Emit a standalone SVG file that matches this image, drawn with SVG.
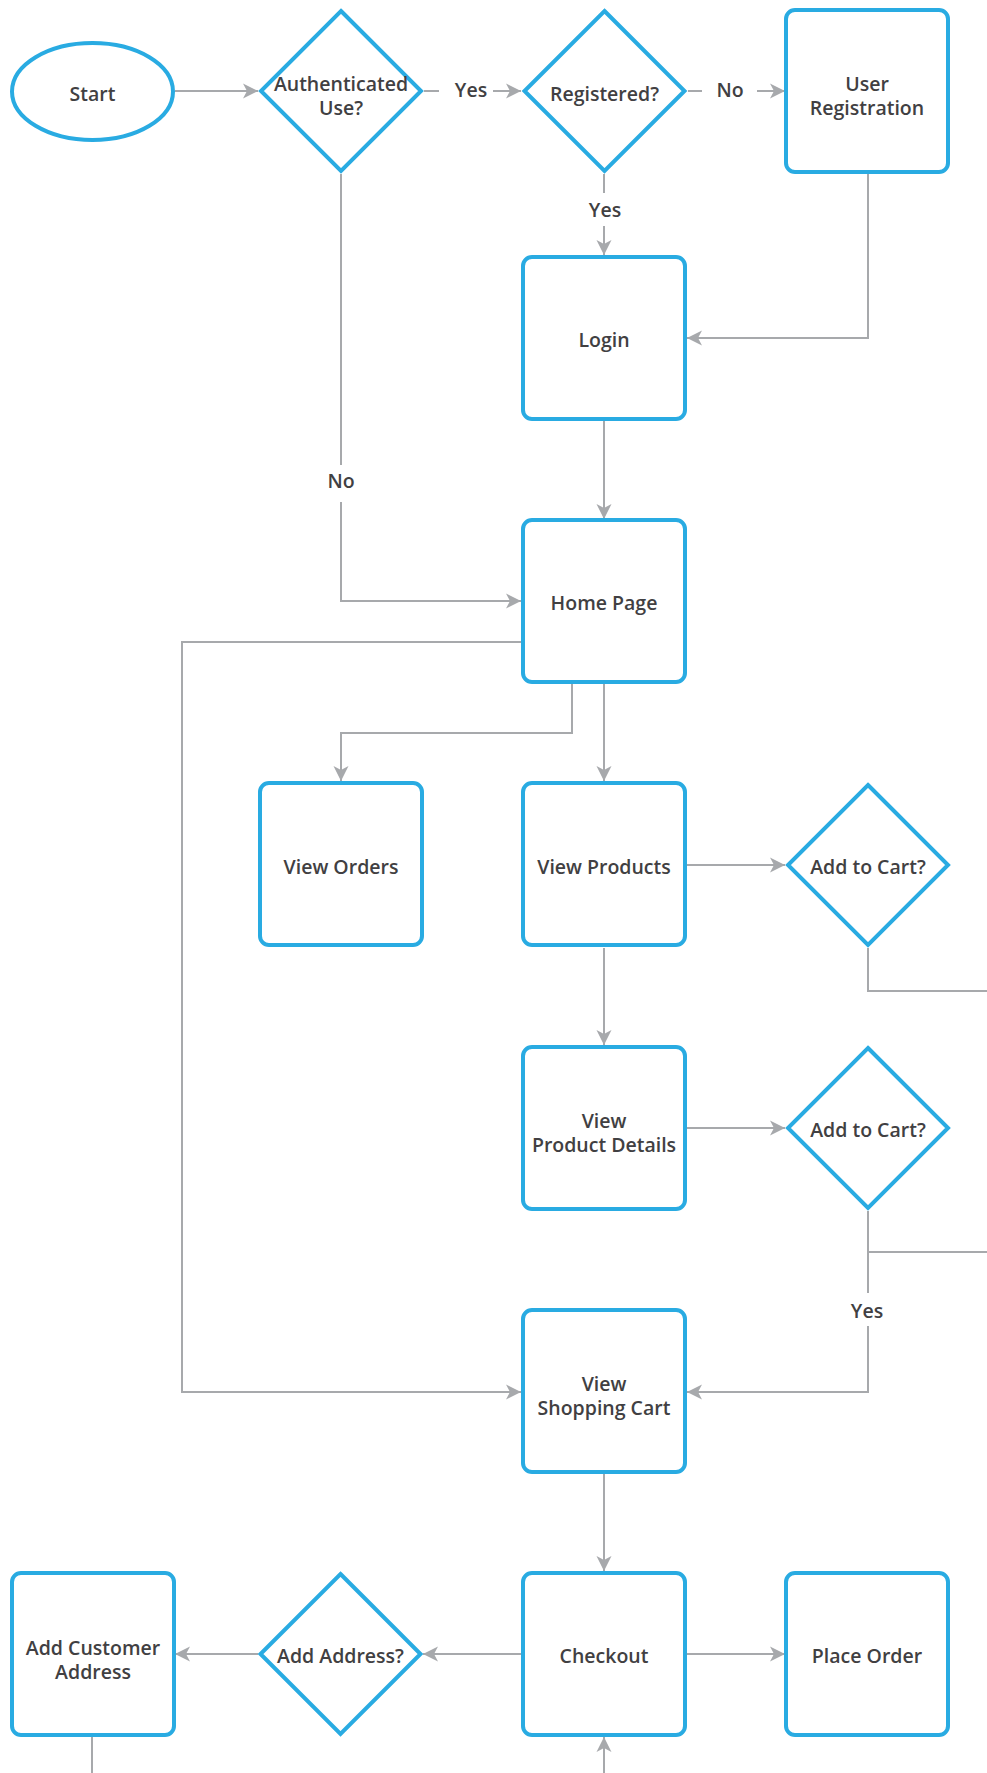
<svg xmlns="http://www.w3.org/2000/svg" width="987" height="1773" viewBox="0 0 987 1773">
<defs>
<style>
.n{fill:#fff;stroke:#29abe2;stroke-width:4}
.t{font-family:"Open Sans","Noto Sans",sans-serif;font-weight:600;font-size:19.5px;fill:#414042;text-anchor:middle}
.c{fill:none;stroke:#a7a9ac;stroke-width:2}
</style>
<marker id="ah" markerUnits="userSpaceOnUse" markerWidth="16" markerHeight="16" viewBox="0 0 16 16" refX="15" refY="8" orient="auto">
<path d="M0,0.5 L15,8 L0,15.5 L4,8 Z" fill="#a7a9ac"/>
</marker>
</defs>
<rect width="987" height="1773" fill="#fff"/>
<g id="connectors">
<path class="c" d="M175,91 H258" marker-end="url(#ah)"/>
<path class="c" d="M424,91 H439"/>
<path class="c" d="M493,91 H521" marker-end="url(#ah)"/>
<text class="t" x="471" y="97">Yes</text>
<path class="c" d="M688,91 H702"/>
<path class="c" d="M757,91 H785" marker-end="url(#ah)"/>
<text class="t" x="730" y="97">No</text>
<path class="c" d="M604,174 V193"/>
<path class="c" d="M604,226 V255" marker-end="url(#ah)"/>
<text class="t" x="605" y="217">Yes</text>
<path class="c" d="M868,174 V338 H687" marker-end="url(#ah)"/>
<path class="c" d="M604,421 V519" marker-end="url(#ah)"/>
<path class="c" d="M341,174 V465"/>
<path class="c" d="M341,502 V601 H521" marker-end="url(#ah)"/>
<text class="t" x="341" y="488">No</text>
<path class="c" d="M521,642 H182 V1392 H521" marker-end="url(#ah)"/>
<path class="c" d="M572,684 V733 H341 V781" marker-end="url(#ah)"/>
<path class="c" d="M604,684 V781" marker-end="url(#ah)"/>
<path class="c" d="M687,865 H785" marker-end="url(#ah)"/>
<path class="c" d="M868,948 V991 H987"/>
<path class="c" d="M604,948 V1045" marker-end="url(#ah)"/>
<path class="c" d="M687,1128 H785" marker-end="url(#ah)"/>
<path class="c" d="M868,1211 V1252 H987"/>
<path class="c" d="M868,1252 V1293"/>
<path class="c" d="M868,1326 V1392 H687" marker-end="url(#ah)"/>
<text class="t" x="867" y="1318">Yes</text>
<path class="c" d="M604,1473 V1571" marker-end="url(#ah)"/>
<path class="c" d="M521,1654 H423" marker-end="url(#ah)"/>
<path class="c" d="M258,1654 H175" marker-end="url(#ah)"/>
<path class="c" d="M687,1654 H785" marker-end="url(#ah)"/>
<path class="c" d="M92,1737 V1773"/>
<path class="c" d="M604,1773 V1737" marker-end="url(#ah)"/>
</g>
<g id="start"><ellipse class="n" cx="92.5" cy="91.5" rx="80.5" ry="48.5"/><text class="t" x="92.5" y="101">Start</text></g>
<g id="auth"><polygon class="n" points="341,11 421,91 341,171 261,91"/><text class="t"><tspan x="341" y="91">Authenticated</tspan><tspan x="341" y="115">Use?</tspan></text></g>
<g id="registered"><polygon class="n" points="604.5,11 684.5,91 604.5,171 524.5,91"/><text class="t" x="604.5" y="101">Registered?</text></g>
<g id="userreg"><rect class="n" x="786" y="10" width="162" height="162" rx="9"/><text class="t"><tspan x="867" y="91">User</tspan><tspan x="867" y="115">Registration</tspan></text></g>
<g id="login"><rect class="n" x="523" y="257" width="162" height="162" rx="9"/><text class="t" x="604" y="347">Login</text></g>
<g id="home"><rect class="n" x="523" y="520" width="162" height="162" rx="9"/><text class="t" x="604" y="610">Home Page</text></g>
<g id="vieworders"><rect class="n" x="260" y="783" width="162" height="162" rx="9"/><text class="t" x="341" y="874">View Orders</text></g>
<g id="viewproducts"><rect class="n" x="523" y="783" width="162" height="162" rx="9"/><text class="t" x="604" y="874">View Products</text></g>
<g id="addcart1"><polygon class="n" points="868,785 948,865 868,945 788,865"/><text class="t" x="868" y="874">Add to Cart?</text></g>
<g id="viewdetails"><rect class="n" x="523" y="1047" width="162" height="162" rx="9"/><text class="t"><tspan x="604" y="1128">View</tspan><tspan x="604" y="1152">Product Details</tspan></text></g>
<g id="addcart2"><polygon class="n" points="868,1048 948,1128 868,1208 788,1128"/><text class="t" x="868" y="1137">Add to Cart?</text></g>
<g id="cart"><rect class="n" x="523" y="1310" width="162" height="162" rx="9"/><text class="t"><tspan x="604" y="1391">View</tspan><tspan x="604" y="1415">Shopping Cart</tspan></text></g>
<g id="checkout"><rect class="n" x="523" y="1573" width="162" height="162" rx="9"/><text class="t" x="604" y="1663">Checkout</text></g>
<g id="placeorder"><rect class="n" x="786" y="1573" width="162" height="162" rx="9"/><text class="t" x="867" y="1663">Place Order</text></g>
<g id="addaddress"><polygon class="n" points="340.5,1574 420.5,1654 340.5,1734 260.5,1654"/><text class="t" x="340.5" y="1663">Add Address?</text></g>
<g id="addcustomer"><rect class="n" x="12" y="1573" width="162" height="162" rx="9"/><text class="t"><tspan x="93" y="1655">Add Customer</tspan><tspan x="93" y="1679">Address</tspan></text></g>
</svg>
